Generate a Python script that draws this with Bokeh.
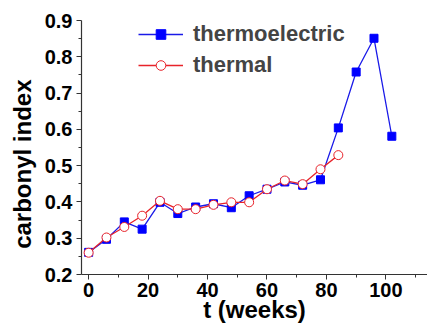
from bokeh.plotting import figure
from bokeh.models import Range1d, Legend, LegendItem, FixedTicker
from bokeh.embed import file_html
from bokeh.resources import INLINE

weeks_te = [0, 6, 12, 18, 24, 30, 36, 42, 48, 54, 60, 66, 72, 78, 84, 90, 96, 102]
thermoelectric = [0.261, 0.297, 0.345, 0.325, 0.399, 0.368, 0.386, 0.395, 0.384,
                  0.417, 0.435, 0.455, 0.446, 0.461, 0.604, 0.758, 0.851, 0.581]
weeks_th = [0, 6, 12, 18, 24, 30, 36, 42, 48, 54, 60, 66, 72, 78, 84]
thermal = [0.260, 0.302, 0.331, 0.362, 0.403, 0.380, 0.380, 0.392, 0.399,
           0.399, 0.435, 0.459, 0.449, 0.490, 0.529]
x_ticks = [0, 20, 40, 60, 80, 100]
x_minor = [10, 30, 50, 70, 90, 110]
y_ticks = [0.2, 0.3, 0.4, 0.5, 0.6, 0.7, 0.8, 0.9]
y_minor = [0.25, 0.35, 0.45, 0.55, 0.65, 0.75, 0.85]

FONT = "Liberation Sans"

p = figure(width=427, height=327, output_backend="svg", toolbar_location=None,
           x_range=Range1d(-2.4, 114), y_range=Range1d(0.2, 0.9),
           min_border_left=81, min_border_right=0, min_border_top=20, min_border_bottom=53)
p.outline_line_color = None
p.grid.visible = False
p.background_fill_color = "white"
p.border_fill_color = "white"

blue = "#1a1ae8"
red = "#e8232a"

l1 = p.line(weeks_te, thermoelectric, line_color=blue, line_width=1.3)
s1 = p.scatter(weeks_te, thermoelectric, marker="square", size=8, fill_color="#0000ff", line_color="#0000ff")
l2 = p.line(weeks_th, thermal, line_color=red, line_width=1.3)
s2 = p.scatter(weeks_th, thermal, marker="circle", size=9, fill_color="white", line_color=red, line_width=1)

p.xaxis.ticker = FixedTicker(ticks=x_ticks, minor_ticks=x_minor)
p.yaxis.ticker = FixedTicker(ticks=y_ticks, minor_ticks=y_minor)

for ax in (p.xaxis, p.yaxis):
    ax.axis_line_color = "#333333"
    ax.axis_line_width = 1.2
    ax.major_tick_line_color = "#333333"
    ax.minor_tick_line_color = "#333333"
    ax.major_tick_in = 0
    ax.major_tick_out = 5
    ax.minor_tick_in = 0
    ax.minor_tick_out = 3
    ax.major_label_text_font = FONT
    ax.major_label_text_font_style = "bold"
    ax.major_label_text_font_size = "20px"
    ax.major_label_text_color = "black"
    ax.axis_label_text_font = FONT
    ax.axis_label_text_font_style = "bold"
    ax.axis_label_text_font_size = "24px"
    ax.axis_label_text_color = "black"

p.xaxis.axis_label = "t (weeks)"
p.yaxis.axis_label = "carbonyl index\u00a0\u00a0\u00a0\u00a0\u00a0"
p.xaxis.major_label_standoff = 3
p.xaxis.axis_label_standoff = -4
p.yaxis.major_label_standoff = 4
p.yaxis.axis_label_standoff = 6

legend = Legend(items=[LegendItem(label="thermoelectric", renderers=[l1, s1]),
                       LegendItem(label="thermal", renderers=[l2, s2])],
                location=(57, 196))
legend.border_line_color = None
legend.background_fill_alpha = 0
legend.label_text_font = FONT
legend.label_text_font_style = "bold"
legend.label_text_font_size = "22px"
legend.glyph_width = 45
legend.glyph_height = 24
legend.label_height = 24
legend.label_width = 170
legend.spacing = 5
legend.padding = 0
legend.margin = 0
legend.label_standoff = 10
p.add_layout(legend)

open("out.html", "w").write(file_html(p, INLINE))
